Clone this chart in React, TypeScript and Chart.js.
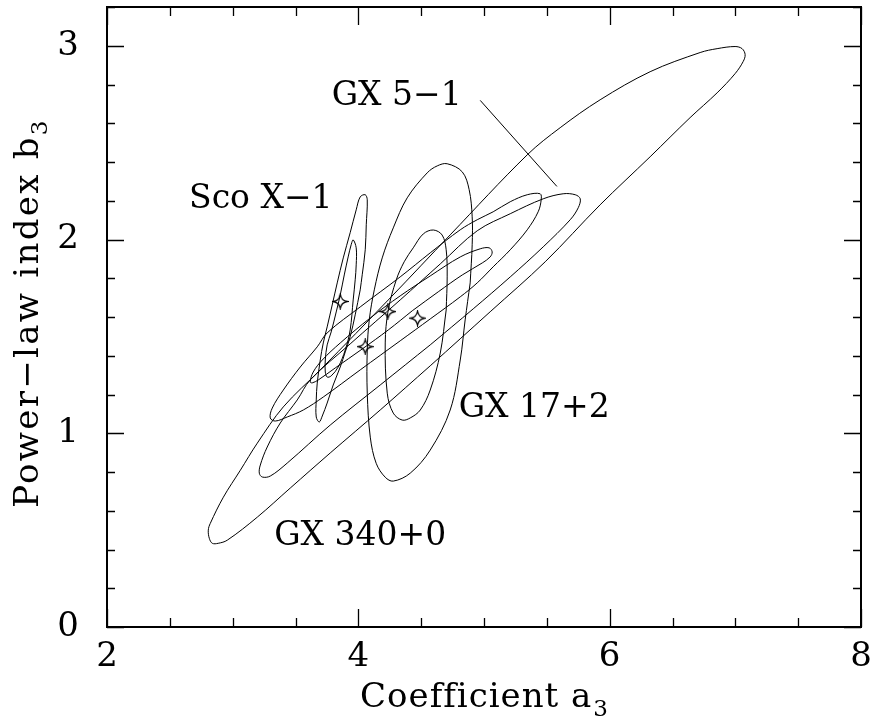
import React, { useEffect, useRef } from "react";
import { Chart, registerables } from "chart.js";

Chart.register(...registerables);

// ---------- axis definitions ----------
const xMajorTicks = [2, 4, 6, 8];
const yMajorTicks = [0, 1, 2, 3];
const xMinorStep = 0.5;
const yMinorStep = 0.2;
const xMin = 2;
const xMax = 8;
const yMin = 0;
const yMax = 3.2;
const xTitle = "Coefficient a";
const xTitleSub = "3";
const yTitle = "Power\u2212law index b";
const yTitleSub = "3";

// ---------- confidence contours (a3, b3) ----------
type P = [number, number];

const gx51Outer: P[] = [
  [4.572, 1.348], [5.049, 1.627], [5.487, 1.885], [5.924, 2.179], [6.322, 2.427],
  [6.640, 2.629], [6.855, 2.757], [6.998, 2.856], [7.062, 2.918], [7.078, 2.954],
  [7.054, 2.985], [6.998, 2.996], [6.855, 2.985], [6.720, 2.965], [6.322, 2.866],
  [5.924, 2.721], [5.606, 2.577], [5.344, 2.437], [4.731, 2.024], [4.262, 1.704],
  [3.697, 1.327], [3.403, 1.136], [3.196, 0.949], [3.061, 0.809], [2.926, 0.670],
  [2.822, 0.535], [2.806, 0.500], [2.814, 0.458], [2.838, 0.432], [2.885, 0.432],
  [2.957, 0.448], [3.196, 0.567], [3.458, 0.717], [3.776, 0.898], [4.174, 1.120],
  [4.572, 1.348],
];

const gx51Inner: P[] = [
  [4.572, 1.456], [4.914, 1.642], [5.209, 1.807], [5.471, 1.962], [5.686, 2.102],
  [5.750, 2.164], [5.766, 2.210], [5.726, 2.231], [5.630, 2.236], [5.471, 2.210],
  [5.209, 2.133], [4.946, 2.045], [4.652, 1.874], [4.333, 1.688], [3.935, 1.461],
  [3.617, 1.275], [3.514, 1.172], [3.379, 1.053], [3.275, 0.929], [3.220, 0.836],
  [3.212, 0.794], [3.236, 0.774], [3.299, 0.779], [3.434, 0.846], [3.776, 1.042],
  [4.174, 1.249], [4.572, 1.456],
];

const gx340Outer: P[] = [
  [4.333, 1.477], [4.572, 1.590], [4.811, 1.704], [4.946, 1.776], [5.073, 1.859],
  [5.209, 1.947], [5.344, 2.050], [5.431, 2.143], [5.455, 2.205], [5.447, 2.236],
  [5.344, 2.231], [5.209, 2.195], [5.073, 2.143], [4.946, 2.102], [4.811, 2.050],
  [4.572, 1.931], [4.333, 1.807], [4.015, 1.652], [3.752, 1.518], [3.673, 1.446],
  [3.538, 1.342], [3.403, 1.223], [3.315, 1.130], [3.299, 1.079], [3.339, 1.063],
  [3.434, 1.084], [3.562, 1.120], [3.721, 1.187], [4.015, 1.327], [4.333, 1.477],
];

const gx340Inner: P[] = [
  [4.429, 1.632], [4.636, 1.730], [4.827, 1.817], [4.986, 1.879], [5.049, 1.910],
  [5.065, 1.936], [5.041, 1.957], [4.970, 1.952], [4.811, 1.910], [4.572, 1.812],
  [4.333, 1.709], [4.095, 1.595], [3.856, 1.466], [3.713, 1.378], [3.641, 1.316],
  [3.617, 1.265], [3.633, 1.260], [3.681, 1.275], [3.816, 1.337], [4.031, 1.435],
  [4.238, 1.533], [4.429, 1.632],
];

const scoOuter: P[] = [
  [4.015, 1.740], [3.975, 1.611], [3.935, 1.498], [3.896, 1.420], [3.856, 1.342],
  [3.800, 1.249], [3.752, 1.156], [3.713, 1.089], [3.689, 1.058], [3.665, 1.084],
  [3.665, 1.172], [3.673, 1.259], [3.697, 1.378], [3.721, 1.466], [3.752, 1.549],
  [3.792, 1.662], [3.832, 1.776], [3.880, 1.905], [3.935, 2.035], [3.983, 2.153],
  [4.015, 2.220], [4.055, 2.231], [4.071, 2.205], [4.063, 2.076], [4.055, 1.947],
  [4.031, 1.818], [4.015, 1.740],
];

const scoInner: P[] = [
  [3.959, 1.688], [3.935, 1.533], [3.896, 1.430], [3.840, 1.342], [3.784, 1.296],
  [3.752, 1.290], [3.737, 1.316], [3.737, 1.378], [3.752, 1.456], [3.784, 1.523],
  [3.824, 1.626], [3.856, 1.714], [3.888, 1.817], [3.919, 1.910], [3.943, 1.973],
  [3.959, 1.998], [3.983, 1.957], [3.983, 1.869], [3.975, 1.792], [3.959, 1.688],
];

const gx172Outer: P[] = [
  [4.890, 1.776], [4.850, 1.585], [4.811, 1.378], [4.731, 1.120], [4.572, 0.913],
  [4.413, 0.794], [4.278, 0.753], [4.214, 0.773], [4.142, 0.845], [4.095, 0.980],
  [4.071, 1.207], [4.071, 1.430], [4.087, 1.585], [4.127, 1.740], [4.190, 1.905],
  [4.278, 2.060], [4.389, 2.215], [4.548, 2.344], [4.628, 2.380], [4.707, 2.391],
  [4.827, 2.349], [4.882, 2.257], [4.906, 2.117], [4.906, 1.973], [4.890, 1.776],
];

const gx172Inner: P[] = [
  [4.699, 1.636], [4.652, 1.414], [4.572, 1.223], [4.493, 1.120], [4.413, 1.079],
  [4.349, 1.068], [4.278, 1.104], [4.230, 1.207], [4.214, 1.466], [4.238, 1.636],
  [4.302, 1.792], [4.365, 1.885], [4.437, 1.957], [4.517, 2.029], [4.597, 2.049],
  [4.667, 2.023], [4.699, 1.947], [4.707, 1.807], [4.699, 1.636],
];

// best-fit positions (stars)
const starX = [3.856, 4.235, 4.471, 4.055];
const starY = [1.680, 1.628, 1.594, 1.447];

// source labels and pointer line
const labelText = ["GX 5\u22121", "Sco X\u22121", "GX 17+2", "GX 340+0"];
const labelX = [4.305, 3.224, 5.399, 4.015];
const labelY = [2.696, 2.164, 1.084, 0.422];
const pointerLine: P[] = [
  [4.970, 2.718],
  [5.580, 2.274],
];

const contours = [gx51Outer, gx51Inner, gx340Outer, gx340Inner, scoOuter, scoInner, gx172Outer, gx172Inner];

const FONT = '"DejaVu Serif", "Liberation Serif", serif';

function makeStar(): HTMLCanvasElement {
  const s = 17;
  const c = document.createElement("canvas");
  c.width = s;
  c.height = s;
  const ctx = c.getContext("2d")!;
  const cx = 8.5;
  const cy = 8.5;
  const r = 7;
  const k = 1.0;
  ctx.strokeStyle = "#000";
  ctx.lineWidth = 1.3;
  ctx.beginPath();
  ctx.moveTo(cx, cy - r);
  ctx.quadraticCurveTo(cx + k, cy - k, cx + r, cy);
  ctx.quadraticCurveTo(cx + k, cy + k, cx, cy + r);
  ctx.quadraticCurveTo(cx - k, cy + k, cx - r, cy);
  ctx.quadraticCurveTo(cx - k, cy - k, cx, cy - r);
  ctx.closePath();
  ctx.stroke();
  return c;
}

const decorPlugin = {
  id: "decor",
  afterDraw(chart: any) {
    const { ctx, chartArea } = chart;
    const xs = chart.scales.x;
    const ys = chart.scales.y;
    const { left, right, top, bottom } = chartArea;
    ctx.save();
    ctx.strokeStyle = "#000";
    ctx.fillStyle = "#000";

    // ticks (inside, all four sides)
    ctx.lineWidth = 1.3;
    ctx.beginPath();
    const nx = Math.round((xMax - xMin) / xMinorStep);
    for (let i = 0; i <= nx; i++) {
      const v = xMin + i * xMinorStep;
      const major = xMajorTicks.some((t) => Math.abs(t - v) < 1e-6);
      const len = major ? 18 : 9;
      const px = Math.round(xs.getPixelForValue(v)) + 0.5;
      ctx.moveTo(px, bottom);
      ctx.lineTo(px, bottom - len);
      ctx.moveTo(px, top);
      ctx.lineTo(px, top + len);
    }
    const ny = Math.round((yMax - yMin) / yMinorStep);
    for (let i = 0; i <= ny; i++) {
      const v = yMin + i * yMinorStep;
      const major = yMajorTicks.some((t) => Math.abs(t - v) < 1e-6);
      const len = major ? 17 : 8;
      const py = Math.round(ys.getPixelForValue(v)) + 0.5;
      ctx.moveTo(left, py);
      ctx.lineTo(left + len, py);
      ctx.moveTo(right, py);
      ctx.lineTo(right - len, py);
    }
    ctx.stroke();

    // frame
    ctx.lineWidth = 2;
    ctx.strokeRect(left, top, right - left, bottom - top);

    // source labels
    ctx.font = `33px ${FONT}`;
    ctx.textAlign = "center";
    ctx.textBaseline = "alphabetic";
    for (let i = 0; i < labelText.length; i++) {
      ctx.fillText(labelText[i], xs.getPixelForValue(labelX[i]), ys.getPixelForValue(labelY[i]));
    }

    // x title with subscript
    const mainFont = `34px ${FONT}`;
    const subFont = `23px ${FONT}`;
    ctx.textAlign = "left";
    (ctx as any).letterSpacing = "1px";
    ctx.font = mainFont;
    const wMain = ctx.measureText(xTitle).width;
    ctx.font = subFont;
    const wSub = ctx.measureText(xTitleSub).width;
    const cxT = (left + right) / 2;
    const x0 = cxT - (wMain + wSub) / 2;
    const baseX = bottom + 80;
    ctx.font = mainFont;
    ctx.fillText(xTitle, x0, baseX);
    ctx.font = subFont;
    ctx.fillText(xTitleSub, x0 + wMain + 1, baseX + 9);

    // y title with subscript (rotated)
    (ctx as any).letterSpacing = "2.3px";
    ctx.font = mainFont;
    const wMainY = ctx.measureText(yTitle).width;
    ctx.font = subFont;
    const wSubY = ctx.measureText(yTitleSub).width;
    ctx.translate(38, (top + bottom) / 2 - 4);
    ctx.rotate(-Math.PI / 2);
    const y0 = -(wMainY + wSubY) / 2;
    ctx.font = mainFont;
    ctx.fillText(yTitle, y0, 0);
    ctx.font = subFont;
    ctx.fillText(yTitleSub, y0 + wMainY, 9);
    ctx.restore();
  },
};

export default function App() {
  const ref = useRef<HTMLCanvasElement | null>(null);

  useEffect(() => {
    if (!ref.current) return;
    const star = makeStar();
    const datasets: any[] = contours.map((c) => ({
      data: c.map(([x, y]) => ({ x, y })),
      borderColor: "#000",
      borderWidth: 1,
      pointRadius: 0,
      tension: 0.35,
      fill: false,
    }));
    datasets.push({
      data: pointerLine.map(([x, y]) => ({ x, y })),
      borderColor: "#000",
      borderWidth: 1,
      pointRadius: 0,
      tension: 0,
      fill: false,
    });
    datasets.push({
      data: starX.map((x, i) => ({ x, y: starY[i] })),
      showLine: false,
      pointStyle: star,
      pointRadius: 8,
      borderColor: "#000",
      backgroundColor: "#000",
    });

    const chart = new Chart(ref.current, {
      type: "line",
      data: { datasets },
      options: {
        animation: false,
        responsive: false,
        devicePixelRatio: 1,
        layout: { autoPadding: false, padding: { top: 7, right: 10, left: 0, bottom: 0 } },
        plugins: { legend: { display: false }, tooltip: { enabled: false } },
        scales: {
          x: {
            type: "linear",
            min: xMin,
            max: xMax,
            grid: { display: false },
            border: { display: false },
            ticks: {
              color: "#000",
              font: { family: FONT, size: 34 },
              padding: 2,
              maxRotation: 0,
              autoSkip: false,
            },
            afterBuildTicks: (s: any) => {
              s.ticks = xMajorTicks.map((v) => ({ value: v }));
            },
            afterFit: (s: any) => {
              s.height = 95;
              s.paddingLeft = 0;
              s.paddingRight = 0;
              s.paddingTop = 0;
              s.paddingBottom = 0;
            },
          },
          y: {
            type: "linear",
            min: yMin,
            max: yMax,
            grid: { display: false },
            border: { display: false },
            ticks: {
              color: "#000",
              font: { family: FONT, size: 34 },
              padding: 20,
              autoSkip: false,
            },
            afterBuildTicks: (s: any) => {
              s.ticks = yMajorTicks.map((v) => ({ value: v }));
            },
            afterFit: (s: any) => {
              s.width = 107;
              s.paddingLeft = 0;
              s.paddingRight = 0;
              s.paddingTop = 0;
              s.paddingBottom = 0;
            },
          },
        },
      } as any,
      plugins: [decorPlugin],
    });
    return () => chart.destroy();
  }, []);

  return (
    <div style={{ position: "absolute", left: 0, top: 0, width: 871, height: 722, background: "#fff" }}>
      <canvas ref={ref} width={871} height={722} style={{ display: "block", width: 871, height: 722 }} />
    </div>
  );
}
